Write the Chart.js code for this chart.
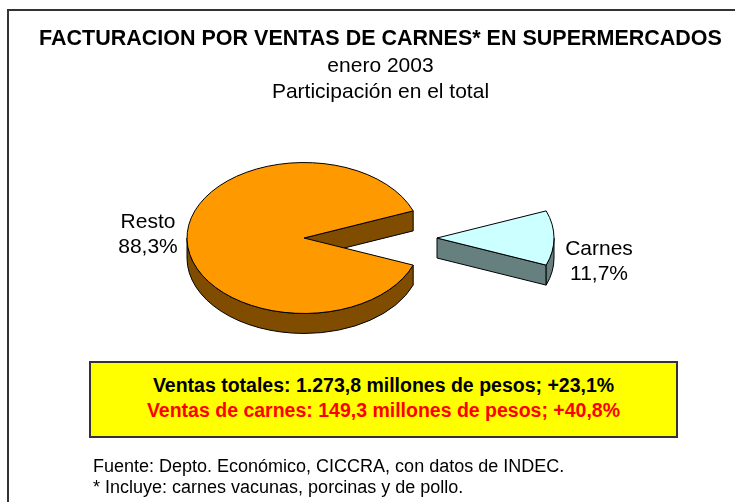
<!DOCTYPE html>
<html>
<head>
<meta charset="utf-8">
<script src="https://cdn.jsdelivr.net/npm/chart.js@4.4.0/dist/chart.umd.min.js"></script>
<style>
    html, body { margin: 0; padding: 0; background: #fff; overflow: hidden; }
    #wrap { position: relative; width: 735px; height: 502px; overflow: hidden; font-family: "Liberation Sans", Arial, sans-serif; color: #000; }
    #frame { position: absolute; left: 7px; top: 9px; width: 800px; height: 600px; border: 2px solid #333; }
    #myChart { position: absolute; left: 0; top: 0; }
    #heading { position: absolute; left: 26px; top: 25px; width: 709px; text-align: center; font-size: 21px; line-height: 26.5px; }
    #heading .main { font-weight: bold; font-size: 21.5px; }
    #totals { position: absolute; left: 89px; top: 361px; width: 589px; height: 77px; box-sizing: border-box; background: #ffff00; border: 2px solid #333; text-align: center; font-weight: bold; font-size: 19.5px; line-height: 25px; padding-top: 9.5px; }
    #totals .red { color: #ff0000; }
    #notes { position: absolute; left: 93px; top: 456px; font-size: 18px; line-height: 21px; }
</style>
</head>
<body>
<div id="wrap">
    <div id="frame"></div>
    <canvas id="myChart" width="735" height="502"></canvas>
    <div id="heading"></div>
    <div id="totals"></div>
    <div id="notes"></div>
</div>
<script>
const categories = ["Carnes", "Resto"];
const shares = [11.7, 88.3];
const headingLines = ["FACTURACION POR VENTAS DE CARNES* EN SUPERMERCADOS", "enero 2003", "Participación en el total"];
const totalsLines = ["Ventas totales: 1.273,8 millones de pesos; +23,1%", "Ventas de carnes: 149,3 millones de pesos; +40,8%"];
const noteLines = ["Fuente: Depto. Económico, CICCRA, con datos de INDEC.", "* Incluye: carnes vacunas, porcinas y de pollo."];

const topColors = ["#CCFFFF", "#FF9900"];
const sideColors = ["#668080", "#804D00"];
const FONT = "\"Liberation Sans\", Arial, sans-serif";

function fillTexts() {
    document.getElementById("heading").innerHTML =
        '<div class="main">' + headingLines[0] + '</div><div>' + headingLines[1] + '</div><div>' + headingLines[2] + '</div>';
    document.getElementById("totals").innerHTML =
        '<div>' + totalsLines[0] + '</div><div class="red">' + totalsLines[1] + '</div>';
    document.getElementById("notes").innerHTML =
        '<div>' + noteLines[0] + '</div><div>' + noteLines[1] + '</div>';
}

function pct(v) {
    return v.toFixed(1).replace(".", ",") + "%";
}

// visible parts of the outer rim: angles facing the viewer (0..PI)
function frontRanges(s, e) {
    let out = [];
    for (let k = -1; k <= 1; k++) {
        let a = Math.max(s, 2 * Math.PI * k);
        let b = Math.min(e, Math.PI + 2 * Math.PI * k);
        if (b > a) out.push([a, b]);
    }
    return out;
}

function sliceGeom(arc, i, opts) {
    const p = arc.getProps(["x", "y", "startAngle", "endAngle", "outerRadius"]);
    const mid = (p.startAngle + p.endAngle) / 2;
    const ex = opts.explode[i] || 0;
    return {
        cx: p.x + Math.cos(mid) * ex,
        cy: p.y + Math.sin(mid) * ex * opts.tilt,
        rx: p.outerRadius,
        ry: p.outerRadius * opts.tilt,
        s: p.startAngle,
        e: p.endAngle,
        mid: mid
    };
}

const pie3d = {
    id: "pie3d",
    beforeDatasetsDraw(chart, args, opts) {
        const ctx = chart.ctx;
        const arcs = chart.getDatasetMeta(0).data;
        const d = opts.depth;
        ctx.save();
        ctx.lineWidth = 1;
        ctx.strokeStyle = "#000";
        ctx.lineJoin = "round";
        arcs.forEach(function (arc, i) {
            const g = sliceGeom(arc, i, opts);
            const pt = function (a) {
                return [g.cx + g.rx * Math.cos(a), g.cy + g.ry * Math.sin(a)];
            };
            ctx.fillStyle = sideColors[i];

            // cut faces
            [[g.s, Math.cos(g.s) < 0], [g.e, Math.cos(g.e) > 0]].forEach(function (f) {
                if (!f[1]) return;
                const q = pt(f[0]);
                ctx.beginPath();
                ctx.moveTo(g.cx, g.cy);
                ctx.lineTo(q[0], q[1]);
                ctx.lineTo(q[0], q[1] + d);
                ctx.lineTo(g.cx, g.cy + d);
                ctx.closePath();
                ctx.fill();
                ctx.stroke();
            });

            // outer rim
            frontRanges(g.s, g.e).forEach(function (r) {
                const q = pt(r[1]);
                ctx.beginPath();
                ctx.ellipse(g.cx, g.cy, g.rx, g.ry, 0, r[0], r[1], false);
                ctx.lineTo(q[0], q[1] + d);
                ctx.ellipse(g.cx, g.cy + d, g.rx, g.ry, 0, r[1], r[0], true);
                ctx.closePath();
                ctx.fill();
                ctx.stroke();
            });

            // top face
            ctx.fillStyle = topColors[i];
            ctx.beginPath();
            ctx.moveTo(g.cx, g.cy);
            ctx.ellipse(g.cx, g.cy, g.rx, g.ry, 0, g.s, g.e, false);
            ctx.closePath();
            ctx.fill();
            ctx.stroke();
        });
        ctx.restore();
        return false;
    },
    afterDraw(chart, args, opts) {
        const ctx = chart.ctx;
        const arcs = chart.getDatasetMeta(0).data;
        ctx.save();
        ctx.font = "21px " + FONT;
        ctx.fillStyle = "#000";
        ctx.textAlign = "center";
        ctx.textBaseline = "middle";
        arcs.forEach(function (arc, i) {
            const g = sliceGeom(arc, i, opts);
            const lo = opts.labels[i];
            const x = g.cx + Math.cos(g.mid) * (g.rx + lo.gap);
            const y = g.cy + lo.dy;
            ctx.fillText(categories[i], x, y - 12.5);
            ctx.fillText(pct(shares[i]), x, y + 12.5);
        });
        ctx.restore();
    }
};

function createChart() {
    const total = shares.reduce(function (a, b) { return a + b; }, 0);
    new Chart("myChart", {
        type: "pie",
        data: {
            labels: categories,
            datasets: [{
                data: shares,
                backgroundColor: topColors,
                borderColor: "#000",
                borderWidth: 1,
                radius: 117,
                clip: false
            }]
        },
        options: {
            responsive: false,
            animation: false,
            events: [],
            rotation: 90 - (shares[0] / total) * 180,
            layout: { padding: { left: 150, right: 277, top: 130, bottom: 156 } },
            plugins: {
                legend: { display: false },
                tooltip: { enabled: false },
                pie3d: {
                    tilt: 0.645,
                    depth: 20,
                    explode: [133, 0],
                    labels: [{ gap: 45, dy: 23.5 }, { gap: 39, dy: -3.5 }]
                }
            }
        },
        plugins: [pie3d]
    });
}

fillTexts();
createChart();
</script>
</body>
</html>
